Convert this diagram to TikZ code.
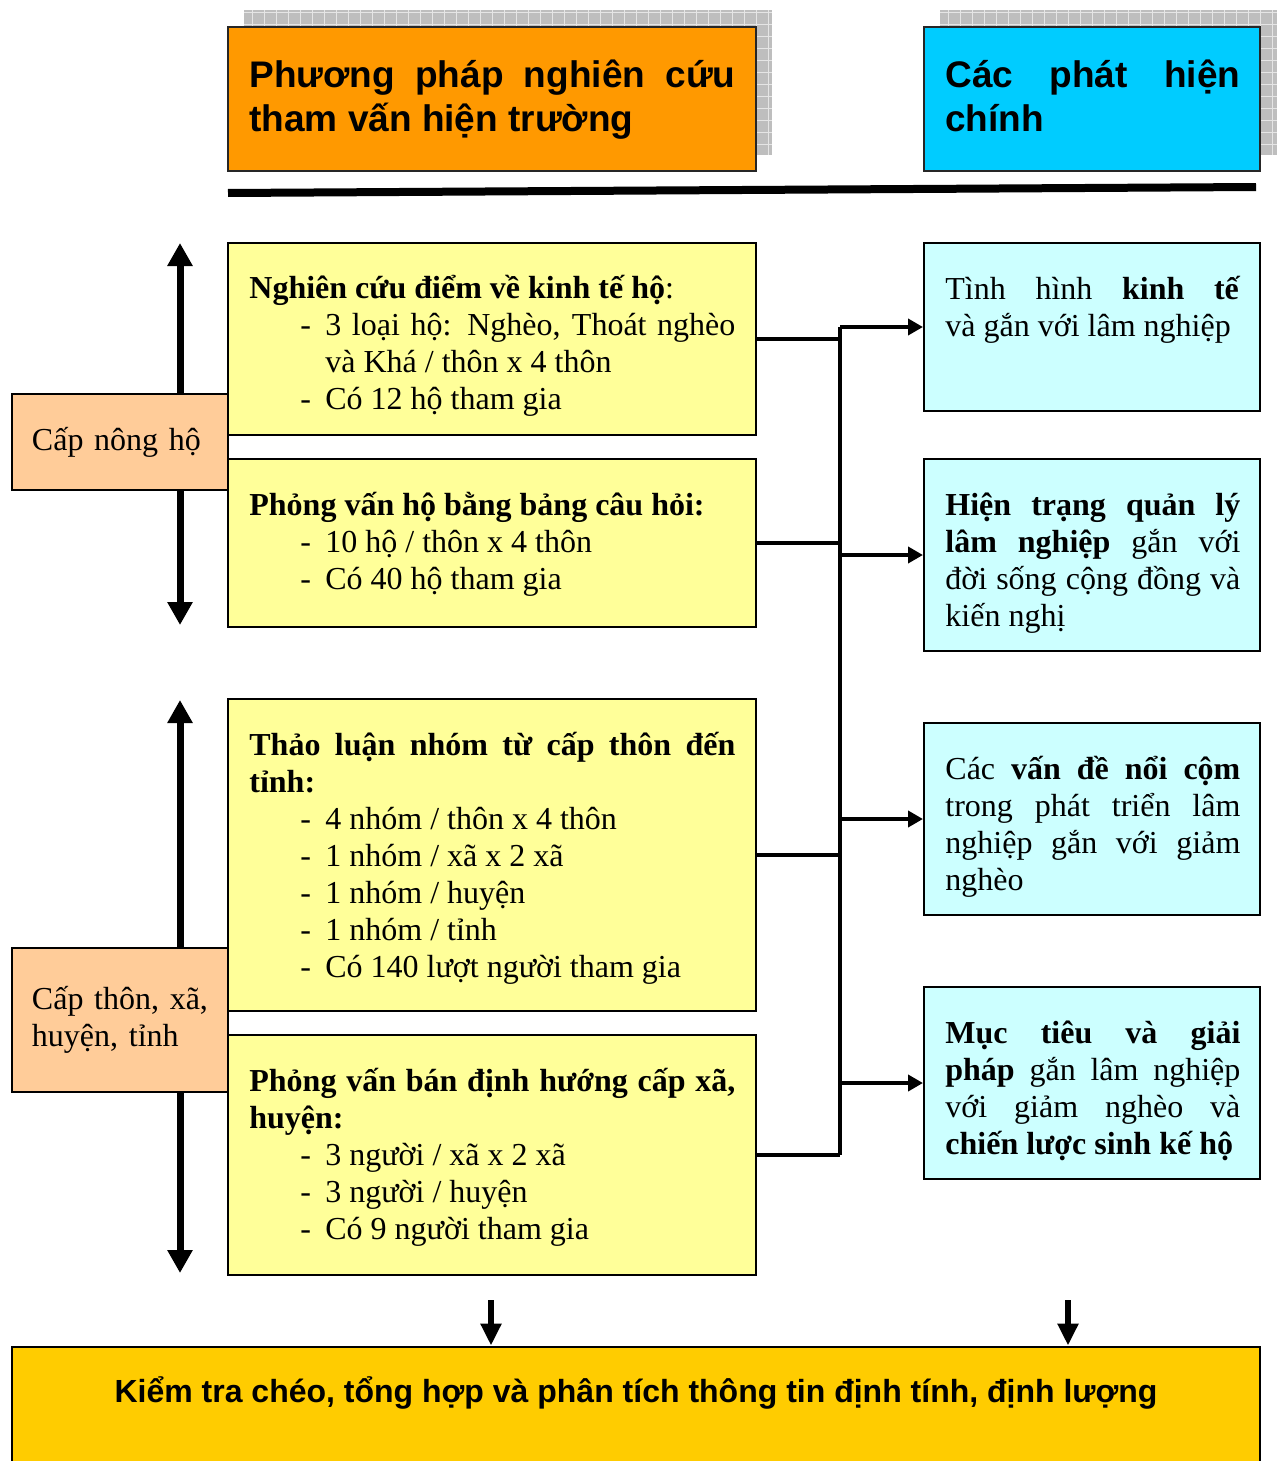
\documentclass[tikz,border=0pt]{standalone}
\usepackage{fontspec}
\setmainfont{Liberation Serif}
\newfontfamily\headfont{Liberation Sans}
\usepackage{xcolor}
\definecolor{hdrorange}{RGB}{255,153,0}
\definecolor{hdrcyan}{RGB}{0,204,255}
\definecolor{boxyellow}{RGB}{255,255,153}
\definecolor{boxcyan}{RGB}{204,255,255}
\definecolor{lvlpeach}{RGB}{255,204,153}
\definecolor{sumgold}{RGB}{255,204,0}
\definecolor{shadowgray}{RGB}{190,190,190}
\usepackage{tikz}
\usetikzlibrary{arrows.meta}

% list item with a dash, as in the boxes
\newcommand{\itm}{\par\leftskip=38pt\noindent\llap{\makebox[12.5pt][l]{-}}}

\tikzset{
  hdr/.style={draw=black!85, line width=1pt, minimum height=72pt},
  hdrtext/.style={anchor=base west, inner sep=0pt, align=justify,
    font=\headfont\bfseries\fontsize{18.5}{22}\selectfont},
  ybox/.style={draw, line width=1pt, fill=boxyellow, minimum width=264pt},
  cbox/.style={draw, line width=1pt, fill=boxcyan, minimum width=168pt},
  lvl/.style={draw, line width=1pt, fill=lvlpeach, minimum width=108pt,
    text width=88pt, inner xsep=10pt, align=left,
    font=\fontsize{16}{18.5}\selectfont},
  ytext/.style={anchor=base west, inner sep=0pt, text width=243pt,
    align=justify, font=\fontsize{16}{18.5}\selectfont},
  ctext/.style={anchor=base west, inner sep=0pt, text width=147.5pt,
    align=justify, font=\fontsize{16}{18.5}\selectfont},
  updown/.style={line width=3.5pt,
    {Triangle[width=12pt,length=11.5pt]}-{Triangle[width=12pt,length=11.5pt]}},
  link/.style={line width=2pt},
  flow/.style={line width=2pt, -{Triangle[width=8pt,length=7.5pt]}},
  down/.style={line width=3pt, -{Triangle[width=10pt,length=11pt]}}
}

\begin{document}
\begin{tikzpicture}[x=0.5pt, y=-0.5pt]
  \useasboundingbox (0,0) rectangle (1277,1461);

  % --- Headers ---
  \fill[shadowgray] (244,10) rectangle (772,155);
  \draw[white!80!gray, step=6pt] (244,10) grid (772,155);
  \fill[shadowgray] (940,10) rectangle (1277,155);
  \draw[white!80!gray, step=6pt] (940,10) grid (1277,155);
  \node[hdr, fill=hdrorange, minimum width=264pt] (H1) at (492,99) {};
  \node[hdr, fill=hdrcyan, minimum width=168pt] (H2) at (1092,99) {};
  \node[hdrtext, text width=243pt] (H1t) at (249,88)
    {Phương pháp nghiên cứu\linebreak tham vấn hiện trường};
  \node[hdrtext, text width=147.5pt] (H2t) at (945,88)
    {Các phát hiện\linebreak chính};
  \coordinate (r1) at (228,193);
  \coordinate (r2) at (1256,187);
  \draw[line width=4pt] (r1) -- (r2);

  % --- Level arrows (behind the level boxes) ---
  \coordinate (a1t) at (180,243);
  \coordinate (a1b) at (180,625);
  \coordinate (a2t) at (180,700);
  \coordinate (a2b) at (180,1273);
  \draw[updown] (a1t) -- (a1b);
  \draw[updown] (a2t) -- (a2b);

  % --- Methods ---
  \node[ybox, minimum height=96pt] (Y1) at (492,339) {};
  \node[ybox, minimum height=84pt] (Y2) at (492,543) {};
  \node[ybox, minimum height=156pt] (Y3) at (492,855) {};
  \node[ybox, minimum height=120pt] (Y4) at (492,1155) {};

  \node[lvl, minimum height=48pt] (L1) at (120,442) {Cấp nông hộ};
  \node[lvl, minimum height=72pt] (L2) at (120,1020) {Cấp thôn, xã,\\huyện, tỉnh};

  \node[ytext] (Y1t) at (249,298) {\textbf{Nghiên cứu điểm về kinh tế hộ}:
    \itm 3 loại hộ: Nghèo, Thoát nghèo\linebreak và Khá / thôn x 4 thôn
    \itm Có 12 hộ tham gia\par};
  \node[ytext] (Y2t) at (249,515) {\textbf{Phỏng vấn hộ bằng bảng câu hỏi:}
    \itm 10 hộ / thôn x 4 thôn
    \itm Có 40 hộ tham gia\par};
  \node[ytext] (Y3t) at (249,755) {\textbf{Thảo luận nhóm từ cấp thôn đến\linebreak tỉnh:}
    \itm 4 nhóm / thôn x 4 thôn
    \itm 1 nhóm / xã x 2 xã
    \itm 1 nhóm / huyện
    \itm 1 nhóm / tỉnh
    \itm Có 140 lượt người tham gia\par};
  \node[ytext] (Y4t) at (249,1091) {\textbf{Phỏng vấn bán định hướng cấp xã,\linebreak huyện:}
    \itm 3 người / xã x 2 xã
    \itm 3 người / huyện
    \itm Có 9 người tham gia\par};

  % --- Findings ---
  \node[cbox, minimum height=84pt] (C1) at (1092,327) {};
  \node[cbox, minimum height=96pt] (C2) at (1092,555) {};
  \node[cbox, minimum height=96pt] (C3) at (1092,819) {};
  \node[cbox, minimum height=96pt] (C4) at (1092,1083) {};

  \node[ctext] (C1t) at (945,299)
    {Tình hình \textbf{kinh tế}\linebreak và gắn với lâm nghiệp};
  \node[ctext] (C2t) at (945,515)
    {\textbf{Hiện trạng quản lý}\linebreak \textbf{lâm nghiệp} gắn với\linebreak
     đời sống cộng đồng và\linebreak kiến nghị};
  \node[ctext] (C3t) at (945,779)
    {Các \textbf{vấn đề nổi cộm}\linebreak trong phát triển lâm\linebreak
     nghiệp gắn với giảm\linebreak nghèo};
  \node[ctext] (C4t) at (945,1043)
    {\textbf{Mục tiêu và giải}\linebreak \textbf{pháp} gắn lâm nghiệp\linebreak
     với giảm nghèo và\linebreak \textbf{chiến lược sinh kế hộ}};

  % --- Connectors ---
  \coordinate (busT) at (840,327);
  \coordinate (busB) at (840,1155);
  \draw[link] (Y1.east) -- (Y1.east -| busT);
  \draw[link] (Y2.east) -- (Y2.east -| busT);
  \draw[link] (Y3.east) -- (Y3.east -| busT);
  \draw[link] (Y4.east) -- (Y4.east -| busT);
  \draw[link] (busT) -- (busB);
  \draw[flow] (C1.west -| busT) -- (C1.west);
  \draw[flow] (C2.west -| busT) -- (C2.west);
  \draw[flow] (C3.west -| busT) -- (C3.west);
  \draw[flow] (C4.west -| busT) -- (C4.west);

  % --- Synthesis ---
  \node[draw, line width=1pt, fill=sumgold, minimum width=624pt,
    minimum height=61.5pt] (B) at (636,1408) {};
  \node[font=\headfont\bfseries\fontsize{16}{19}\selectfont, inner sep=0pt] (Bt) at (636,1393)
    {Kiểm tra chéo, tổng hợp và phân tích thông tin định tính, định lượng};
  \coordinate (d1) at (491,1300);
  \coordinate (d2) at (1068,1300);
  \draw[down] (d1) -- (d1 |- B.north);
  \draw[down] (d2) -- (d2 |- B.north);
\end{tikzpicture}
\end{document}
